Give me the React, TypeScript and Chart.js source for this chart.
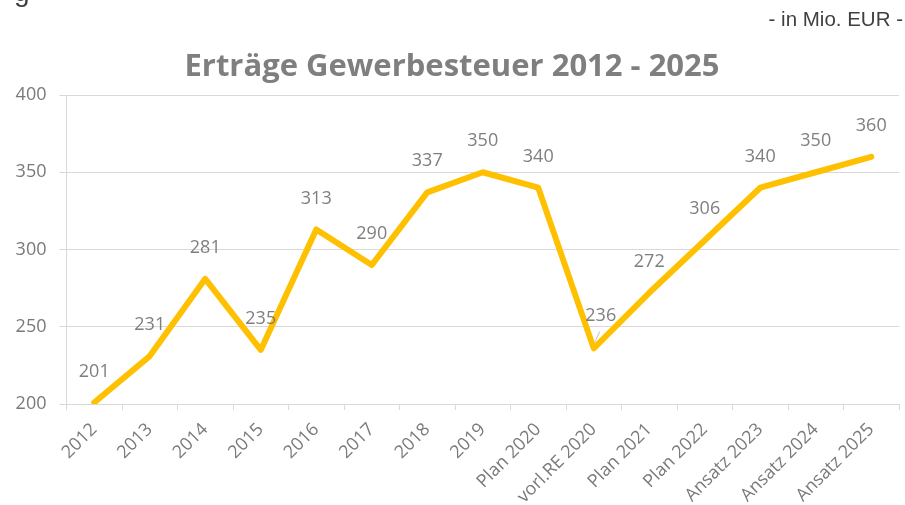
import React, { useEffect, useRef } from "react";
import { Chart, registerables } from "chart.js";

Chart.register(...registerables);

const categories: string[] = [
  "2012", "2013", "2014", "2015", "2016", "2017", "2018", "2019",
  "Plan 2020", "vorl.RE 2020", "Plan 2021", "Plan 2022",
  "Ansatz 2023", "Ansatz 2024", "Ansatz 2025",
];
const values: number[] = [201, 231, 281, 235, 313, 290, 337, 350, 340, 236, 272, 306, 340, 350, 360];
const yTicks: number[] = [200, 250, 300, 350, 400];
const titleText = "Erträge Gewerbesteuer 2012 - 2025";
const unitText = "- in Mio. EUR -";
const clippedText = "g";

const GRID = "#d9d9d9";
const TXT = "#7a7a7a";

const textPlugin = {
  id: "texts",
  afterDatasetsDraw(chart: any) {
    const ctx = chart.ctx as CanvasRenderingContext2D;
    const meta = chart.getDatasetMeta(0);
    ctx.save();
    // data labels
    ctx.font = "18px 'Open Sans'";
    ctx.fillStyle = "#7f7f7f";
    ctx.textAlign = "center";
    ctx.textBaseline = "middle";
    meta.data.forEach((pt: any, i: number) => {
      let dx = 0;
      let dy = -31;
      if (i === 9) {
        dx = 7;
        dy = -33;
        ctx.strokeStyle = "#bfbfbf";
        ctx.lineWidth = 1;
        ctx.beginPath();
        ctx.moveTo(pt.x + 6, pt.y - 17);
        ctx.lineTo(pt.x + 1, pt.y - 6);
        ctx.stroke();
      }
      ctx.fillText(String(values[i]), pt.x + dx, pt.y + dy);
    });
    // title
    ctx.font = "bold 31px 'Open Sans'";
    ctx.fillStyle = "#7f7f7f";
    ctx.textBaseline = "alphabetic";
    ctx.textAlign = "center";
    ctx.fillText(titleText, 452, 76);
    // unit
    ctx.font = "20.5px 'Liberation Sans'";
    ctx.fillStyle = "#404040";
    ctx.textAlign = "right";
    ctx.fillText(unitText, 903, 26);
    // clipped text at top-left
    ctx.font = "28px 'Liberation Sans'";
    ctx.textAlign = "left";
    ctx.fillText(clippedText, 14, 1);
    ctx.restore();
  },
};

export default function App() {
  const ref = useRef<HTMLCanvasElement>(null);
  useEffect(() => {
    if (!ref.current) return;
    const chart = new Chart(ref.current, {
      type: "line",
      data: {
        labels: categories,
        datasets: [
          {
            data: values,
            borderColor: "#ffc000",
            borderWidth: 6,
            borderCapStyle: "round",
            borderJoinStyle: "round",
            pointRadius: 0,
            tension: 0,
            fill: false,
          },
        ],
      },
      options: {
        animation: false,
        responsive: false,
        devicePixelRatio: 1,
        layout: { padding: { top: 95, right: 6, left: 0, bottom: 0 } },
        plugins: {
          legend: { display: false },
          title: { display: false },
          tooltip: { enabled: false },
        },
        scales: {
          x: {
            offset: true,
            grid: {
              offset: true,
              drawOnChartArea: false,
              drawTicks: true,
              tickLength: 6,
              color: GRID,
            },
            border: { display: true, color: GRID },
            ticks: {
              maxRotation: 45,
              minRotation: 45,
              autoSkip: false,
              padding: 9,
              color: TXT,
              font: { family: "'Open Sans'", size: 18 },
            },
            afterFit(scale: any) {
              scale.height = 101;
            },
          },
          y: {
            min: 200,
            max: 400,
            afterBuildTicks(scale: any) {
              scale.ticks = yTicks.map((v) => ({ value: v }));
            },
            grid: {
              color: GRID,
              lineWidth: 1,
              drawTicks: true,
              tickLength: 7,
            },
            border: { display: true, color: GRID },
            ticks: {
              padding: 13,
              color: TXT,
              font: { family: "'Open Sans'", size: 18 },
            },
            afterFit(scale: any) {
              scale.width = 66.5;
            },
          },
        },
      },
      plugins: [textPlugin],
    });
    return () => chart.destroy();
  }, []);
  return (
    <div style={{ position: "absolute", left: 0, top: 0, width: 905, height: 505, background: "#fff" }}>
      <canvas ref={ref} width={905} height={505} />
    </div>
  );
}
